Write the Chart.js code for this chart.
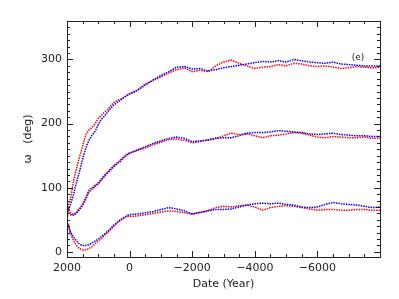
<!DOCTYPE html>
<html lang="en">
<head>
<meta charset="UTF-8">
<title>omega vs date</title>
<style>
    body, html {
        margin: 0;
        padding: 0;
        background: white;
    }
    #omegaChart {
        display: block;
    }
</style>
</head>
<body>
<canvas id="omegaChart" width="399" height="299"></canvas>
<script src="https://cdn.jsdelivr.net/npm/chart.js"></script>
<script>
    // years (x axis, reversed: 2000 on the left)
    const years = [2000, 1950, 1900, 1800, 1700, 1600, 1500, 1400, 1300, 1200, 1100,
        1000, 900, 800, 700, 600, 500, 400, 300, 200, 100, 0,
        -250, -500, -750, -1000, -1250, -1500, -1750, -2000, -2250, -2500, -2750,
        -3000, -3250, -3500, -3750, -4000, -4250, -4500, -4750, -5000, -5250, -5500,
        -5750, -6000, -6250, -6500, -6750, -7000, -7250, -7500, -7750, -8000];

    // upper pair
    const topRed = [70, 74, 80, 108, 130, 148, 165, 183, 190, 194, 200,
        208, 213, 218, 222, 228, 233, 236, 238, 240, 244, 247,
        252, 262, 267, 273, 279, 284, 287, 281, 283, 281, 290,
        296, 299, 294, 290, 286, 288, 289, 292, 290, 294, 293,
        290, 289, 290, 288, 286, 287, 289, 288, 287, 288];
    const topBlue = [62, 66, 72, 88, 108, 125, 145, 162, 174, 182, 188,
        199, 207, 212, 218, 224, 229, 233, 236, 240, 243, 246,
        252, 260, 268, 275, 281, 288, 289, 285, 286, 282, 284,
        287, 289, 291, 293, 295, 297, 296, 298, 296, 300, 298,
        296, 295, 294, 296, 293, 292, 291, 290, 290, 290];

    // middle pair
    const midRed = [51, 68, 62, 58, 62, 68, 75, 85, 97, 100, 104,
        108, 114, 120, 125, 130, 135, 139, 143, 148, 152, 154,
        158, 162, 167, 171, 175, 176, 174, 170, 172, 175, 177,
        181, 185, 183, 184, 181, 178, 181, 182, 184, 186, 185,
        182, 179, 178, 180, 179, 178, 178, 179, 177, 177];
    const midBlue = [64, 61, 58, 57, 60, 66, 72, 82, 93, 98, 102,
        106, 112, 118, 123, 128, 133, 137, 141, 146, 150, 154,
        159, 164, 169, 173, 177, 179, 177, 172, 173, 174, 177,
        178, 178, 181, 185, 186, 186, 187, 189, 188, 187, 186,
        184, 183, 184, 185, 183, 182, 181, 181, 180, 180];

    // lower pair
    const lowRed = [46, 42, 30, 18, 10, 5, 3, 3, 5, 8, 13,
        17, 21, 26, 30, 35, 40, 45, 49, 52, 55, 55,
        56, 58, 60, 62, 64, 63, 61, 59, 62, 64, 69,
        71, 70, 72, 73, 70, 65, 69, 71, 72, 71, 69,
        67, 65, 66, 66, 65, 65, 66, 66, 65, 65];
    const lowBlue = [48, 40, 32, 24, 17, 12, 10, 10, 11, 14, 17,
        20, 24, 28, 32, 37, 42, 46, 50, 53, 56, 58,
        59, 61, 63, 66, 69, 67, 64, 59, 61, 64, 66,
        66, 67, 70, 73, 75, 76, 75, 76, 74, 73, 70,
        69, 70, 74, 77, 75, 74, 73, 71, 69, 70];

    const xTickLabels = [2000, 0, -2000, -4000, -6000];
    const yTickLabels = [0, 100, 200, 300];
    const panelTag = '(e)';

    const RED = 'rgb(255,0,0)';
    const BLUE = 'rgb(0,0,255)';

    function pts(vals) {
        return years.map((y, i) => ({ x: y, y: vals[i] }));
    }

    function line(vals, color) {
        return {
            data: pts(vals),
            borderColor: color,
            borderWidth: 1.5,
            borderDash: [1.5, 1],
            pointRadius: 0,
            tension: 0,
            fill: false
        };
    }

    // IDL-like box with inward ticks on all four sides
    const boxPlugin = {
        id: 'box',
        afterDraw(chart) {
            const ctx = chart.ctx;
            const a = chart.chartArea;
            const xs = chart.scales.x;
            const ys = chart.scales.y;
            ctx.save();
            ctx.strokeStyle = '#222';
            ctx.lineWidth = 1;
            ctx.strokeRect(a.left + 0.5, a.top + 0.5, a.right - a.left, a.bottom - a.top);
            ctx.beginPath();
            for (let v = -8000; v <= 2000; v += 500) {
                const px = Math.round(xs.getPixelForValue(v)) + 0.5;
                const len = (v % 2000 === 0) ? 6 : 3;
                ctx.moveTo(px, a.bottom);
                ctx.lineTo(px, a.bottom - len);
                ctx.moveTo(px, a.top);
                ctx.lineTo(px, a.top + len);
            }
            for (let v = 0; v <= 360; v += 10) {
                const py = Math.round(ys.getPixelForValue(v)) + 0.5;
                const len = (v % 100 === 0) ? 6 : 3;
                ctx.moveTo(a.left, py);
                ctx.lineTo(a.left + len, py);
                ctx.moveTo(a.right, py);
                ctx.lineTo(a.right - len, py);
            }
            ctx.stroke();
            ctx.fillStyle = '#222';
            ctx.font = '9px "DejaVu Sans", sans-serif';
            ctx.textAlign = 'center';
            ctx.textBaseline = 'middle';
            ctx.fillText(panelTag, xs.getPixelForValue(-7300), ys.getPixelForValue(303));
            ctx.restore();
        }
    };

    const tickFont = { family: '"DejaVu Sans", sans-serif', size: 11 };

    new Chart(document.getElementById('omegaChart'), {
        type: 'line',
        data: {
            datasets: [
                line(topBlue, BLUE), line(topRed, RED),
                line(midBlue, BLUE), line(midRed, RED),
                line(lowBlue, BLUE), line(lowRed, RED)
            ]
        },
        options: {
            responsive: false,
            animation: false,
            layout: { padding: { left: 0, right: 19, top: 21, bottom: 0 } },
            plugins: {
                legend: { display: false },
                tooltip: { enabled: false }
            },
            scales: {
                x: {
                    type: 'linear',
                    reverse: true,
                    min: -8000,
                    max: 2000,
                    afterBuildTicks(s) { s.ticks = xTickLabels.map(v => ({ value: v })); },
                    afterFit(s) { s.height = 42; },
                    ticks: {
                        color: '#222',
                        font: tickFont,
                        padding: 5,
                        maxRotation: 0,
                        callback: v => (v < 0 ? '\u2212' + Math.abs(v) : String(v))
                    },
                    grid: { display: false, drawTicks: false },
                    border: { display: false },
                    title: {
                        display: true,
                        text: 'Date (Year)',
                        color: '#222',
                        font: tickFont,
                        padding: { top: 0, bottom: 8 }
                    }
                },
                y: {
                    min: -8,
                    max: 360,
                    afterBuildTicks(s) { s.ticks = yTickLabels.map(v => ({ value: v })); },
                    afterFit(s) { s.width = 67; },
                    ticks: { color: '#222', font: tickFont, padding: 5 },
                    grid: { display: false, drawTicks: false },
                    border: { display: false },
                    title: {
                        display: true,
                        text: '\u03c9   (deg)',
                        color: '#222',
                        font: tickFont,
                        padding: { top: 22, bottom: 0 }
                    }
                }
            }
        },
        plugins: [boxPlugin]
    });
</script>
</body>
</html>
